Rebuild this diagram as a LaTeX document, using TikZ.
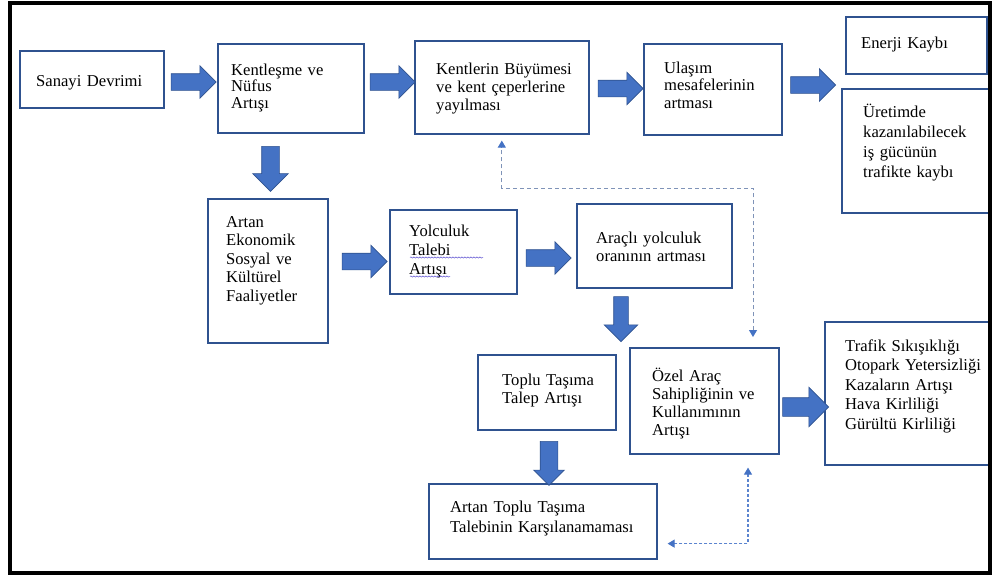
\documentclass[tikz,border=0pt]{standalone}
\usepackage{fontspec}
\setmainfont{Liberation Serif}
\usetikzlibrary{shapes.arrows, arrows.meta, calc, decorations.pathmorphing}
\definecolor{boxline}{HTML}{2F528F}
\definecolor{arrowfill}{HTML}{4472C4}
\definecolor{arrowline}{HTML}{2F528F}
\definecolor{dashone}{HTML}{7F93B8}
\definecolor{dashtwo}{HTML}{5B84CF}
\definecolor{squigcol}{HTML}{5B4FD0}
\begin{document}
\begin{tikzpicture}[x=1pt, y=-1pt,
  box/.style={draw=boxline, line width=1.6pt, fill=white, inner sep=0pt, anchor=north west},
  txt/.style={anchor=base west, inner sep=0pt, align=left, text width=200pt,
    font={\fontsize{16.6}{#1}\selectfont\lineskiplimit=-100pt}},
  txt/.default=18,
  barrow/.style={single arrow, draw=arrowline, fill=arrowfill, line width=0.6pt,
    inner xsep=0pt, inner ysep=8pt, single arrow head extend=8pt, minimum height=45pt, minimum width=0pt},
  tipA/.tip={Triangle[length=7pt,width=8pt,color=arrowfill]},
  dashA/.style={dashone, line width=1pt, dash pattern=on 4pt off 3pt, tipA-tipA},
  dashB/.style={dashtwo, line width=1.1pt, dash pattern=on 3pt off 2pt, tipA-tipA},
  squig/.style={squigcol, line width=0.5pt, decorate, decoration={snake, amplitude=0.6pt, segment length=3pt}}
]
\useasboundingbox (0,0) rectangle (992,576);
\fill[white] (0,0) rectangle (992,576);

% boxes
\node[box, minimum width=144, minimum height=57] (sanayi) at (19,50) {};
\node[box, minimum width=146, minimum height=89] (kentlesme) at (217,43) {};
\node[box, minimum width=174, minimum height=93] (kentlerin) at (414,40) {};
\node[box, minimum width=138, minimum height=91] (ulasim) at (643,43) {};
\node[box, minimum width=141, minimum height=57] (enerji) at (845,16) {};
\node[box, minimum width=149, minimum height=124] (uretim) at (841,88) {};
\node[box, minimum width=120, minimum height=144] (artan) at (207,198) {};
\node[box, minimum width=127, minimum height=84] (yolculuk) at (389,209) {};
\node[box, minimum width=155, minimum height=84] (aracli) at (576,203) {};
\node[box, minimum width=138, minimum height=75] (toplu) at (477,354) {};
\node[box, minimum width=149, minimum height=106] (ozel) at (629,347) {};
\node[box, minimum width=228, minimum height=75] (artantoplu) at (428,483) {};
\node[box, minimum width=166, minimum height=143] (trafik) at (824,321) {};

% texts
\node[txt] (tsanayi) at (36,86) {Sanayi Devrimi};
\node[txt=16.7] (tkentlesme) at (231,75) {Kentleşme ve\\Nüfus\\Artışı};
\node[txt=18] (tkentlerin) at (436,74) {Kentlerin Büyümesi\\ve kent çeperlerine\\yayılması};
\node[txt=17.5] (tulasim) at (664,73) {Ulaşım\\mesafelerinin\\artması};
\node[txt] (tenerji) at (861,48) {Enerji Kaybı};
\node[txt=20] (turetim) at (863,117) {Üretimde\\kazanılabilecek\\iş gücünün\\trafikte kaybı};
\node[txt=18.5] (tartan) at (226,227) {Artan\\Ekonomik\\Sosyal ve\\Kültürel\\Faaliyetler};
\node[txt=19] (tyolculuk) at (409,236) {Yolculuk\\Talebi\\Artışı};
\node[txt=18] (taracli) at (596,243) {Araçlı yolculuk\\oranının artması};
\node[txt=18] (ttoplu) at (502,385) {Toplu Taşıma\\Talep Artışı};
\node[txt=18] (tozel) at (652,381) {Özel Araç\\Sahipliğinin ve\\Kullanımının\\Artışı};
\node[txt=20] (tartantoplu) at (450,512) {Artan Toplu Taşıma\\Talebinin Karşılanamaması};
\node[txt=19.5] (ttrafik) at (845,351) {Trafik Sıkışıklığı\\Otopark Yetersizliği\\Kazaların Artışı\\Hava Kirliliği\\Gürültü Kirliliği};

% spell-check squiggles
\draw[squig] ($(tyolculuk.base west)+(1,21.5)$) -- ++(73,0);
\draw[squig] ($(tyolculuk.base west)+(1,40.5)$) -- ++(40,0);

% block arrows
\node[barrow] (a1) at (189.5,82) {};
\node[barrow] (a2) at (388.5,82) {};
\node[barrow] (a3) at (616.5,88.5) {};
\node[barrow] (a4) at (809,85) {};
\node[barrow] (a6) at (360.5,261.5) {};
\node[barrow] (a7) at (544.5,258) {};
\node[barrow, minimum height=46pt, inner ysep=9pt, single arrow head extend=10.5pt] (a10) at (801,407) {};
\node[barrow, rotate=-90, inner ysep=8.5pt, single arrow head extend=9pt] (a5) at (270.5,164.5) {};
\node[barrow, rotate=-90, inner ysep=7pt, single arrow head extend=9.5pt] (a8) at (621,315.5) {};
\node[barrow, rotate=-90, minimum height=44pt, inner ysep=8.5pt, single arrow head extend=6.5pt] (a9) at (549,459) {};

% dashed connectors
\coordinate (d1a) at ($(ozel.north west)+(124,-10)$);
\coordinate (d1b) at ($(kentlerin.south)+(0,6)$);
\draw[dashA] (d1a) |- ($(d1b)+(0,48)$) -- (d1b);
\coordinate (d2a) at ($(ozel.south west)+(119,13)$);
\coordinate (d2b) at ($(artantoplu.south east)+(10,-16)$);
\draw[dashB] (d2a) |- (d2b);

% outer frame
\draw[black, line width=4pt] (9.5,3) rectangle (990,573);
\end{tikzpicture}
\end{document}
